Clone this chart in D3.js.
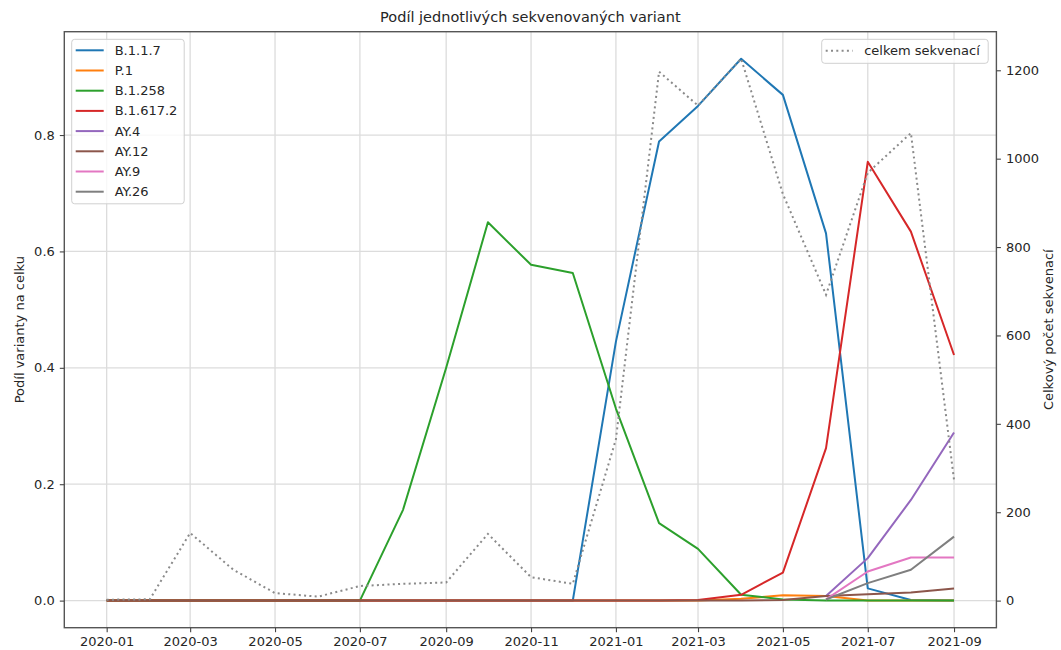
<!DOCTYPE html>
<html>
<head>
<meta charset="utf-8">
<script src="https://cdn.jsdelivr.net/npm/d3@7"></script>
<style>
  body { margin: 0; background: #fff; }
  text { font-family: "DejaVu Sans", sans-serif; fill: #262626; }
</style>
</head>
<body>
<svg id="chart" width="1061" height="650"></svg>
<script>
// monthly data, 2020-01 .. 2021-09
var months = ["2020-01","2020-02","2020-03","2020-04","2020-05","2020-06","2020-07","2020-08","2020-09","2020-10","2020-11","2020-12",
              "2021-01","2021-02","2021-03","2021-04","2021-05","2021-06","2021-07","2021-08","2021-09"];

var variantNames = ["B.1.1.7","P.1","B.1.258","B.1.617.2","AY.4","AY.12","AY.9","AY.26"];
var variantColors = ["#1f77b4","#ff7f0e","#2ca02c","#d62728","#9467bd","#8c564b","#e377c2","#7f7f7f"];

var b117   = [0,0,0,0,0,0,0,0,0,0,0,0,0.445,0.789,0.850,0.931,0.869,0.631,0.021,0.001,0];
var p1     = [0,0,0,0,0,0,0,0,0,0,0,0,0,0,0,0.003,0.009,0.008,0,0,0];
var b1258  = [0,0,0,0,0,0,0,0.156,0.40,0.650,0.577,0.563,0.33,0.133,0.089,0.010,0.002,0,0,0,0];
var b16172 = [0,0,0,0,0,0,0,0,0,0,0,0,0,0,0.001,0.010,0.048,0.262,0.754,0.634,0.422];
var ay4    = [null,null,null,null,null,null,null,null,null,null,null,null,null,null,null,null,null,0.008,0.073,0.173,0.289];
var ay12   = [0,0,0,0,0,0,0,0,0,0,0,0,0,0,0,0,0.001,0.008,0.011,0.014,0.021];
var ay9    = [null,null,null,null,null,null,null,null,null,null,null,null,null,null,null,null,null,0.002,0.050,0.074,0.074];
var ay26   = [null,null,null,null,null,null,null,null,null,null,null,null,null,null,null,null,null,0.002,0.030,0.053,0.110];

var totalSeq = [2,3,153,70,17,9,33,38,41,151,53,38,365,1197,1120,1226,920,692,968,1058,273];

var xTicks = ["2020-01","2020-03","2020-05","2020-07","2020-09","2020-11","2021-01","2021-03","2021-05","2021-07","2021-09"];
var leftTicks = [0, 0.2, 0.4, 0.6, 0.8];
var rightTicks = [0, 200, 400, 600, 800, 1000, 1200];

var series = [b117, p1, b1258, b16172, ay4, ay12, ay9, ay26];

var svg = d3.select("#chart");
var plotLeft = 64.3, plotRight = 996.4, plotTop = 31.7, plotBottom = 627.7;

var parse = d3.utcParse("%Y-%m");
var dates = months.map(parse);

// matplotlib-style 5% margins
function pad(ext){ var m = (ext[1] - ext[0]) * 0.05; return [ext[0] - m, ext[1] + m]; }

var tExt = d3.extent(dates).map(function(d){ return +d; });
var x = d3.scaleUtc().domain(pad(tExt).map(function(t){ return new Date(t); })).range([plotLeft, plotRight]);

var yMax = d3.max(series, function(s){ return d3.max(s); });
var y = d3.scaleLinear().domain(pad([0, yMax])).range([plotBottom, plotTop]);
var y2 = d3.scaleLinear().domain(pad([0, d3.max(totalSeq)])).range([plotBottom, plotTop]);

// grid
var grid = svg.append("g").attr("stroke", "#dcdcdc").attr("stroke-width", 1.3);
xTicks.forEach(function(t){
  var xx = x(parse(t));
  grid.append("line").attr("x1", xx).attr("x2", xx).attr("y1", plotTop).attr("y2", plotBottom);
});
leftTicks.forEach(function(t){
  grid.append("line").attr("x1", plotLeft).attr("x2", plotRight).attr("y1", y(t)).attr("y2", y(t));
});

// variant lines
var line = d3.line()
    .defined(function(d){ return d[1] != null; })
    .x(function(d){ return x(d[0]); })
    .y(function(d){ return y(d[1]); });

series.forEach(function(s, i){
  svg.append("path")
      .attr("d", line(s.map(function(v, j){ return [dates[j], v]; })))
      .attr("fill", "none")
      .attr("stroke", variantColors[i])
      .attr("stroke-width", 2)
      .attr("stroke-linejoin", "round");
});

// total sequenced (twin axis)
var line2 = d3.line()
    .x(function(d){ return x(d[0]); })
    .y(function(d){ return y2(d[1]); });
svg.append("path")
    .attr("d", line2(totalSeq.map(function(v, j){ return [dates[j], v]; })))
    .attr("fill", "none")
    .attr("stroke", "#8a8a8a")
    .attr("stroke-width", 2)
    .attr("stroke-dasharray", "2,3.3");

// spines
svg.append("rect").attr("x", plotLeft).attr("y", plotTop).attr("width", plotRight - plotLeft).attr("height", plotBottom - plotTop)
    .attr("fill", "none").attr("stroke", "#555").attr("stroke-width", 1.4);

// axes
var xAxis = svg.append("g").attr("transform", "translate(0," + plotBottom + ")")
    .call(d3.axisBottom(x).tickValues(xTicks.map(parse)).tickFormat(d3.utcFormat("%Y-%m")).tickSize(4.5).tickPadding(5));
var yAxis = svg.append("g").attr("transform", "translate(" + plotLeft + ",0)")
    .call(d3.axisLeft(y).tickValues(leftTicks).tickFormat(d3.format(".1f")).tickSize(4.5).tickPadding(5));
var y2Axis = svg.append("g").attr("transform", "translate(" + plotRight + ",0)")
    .call(d3.axisRight(y2).tickValues(rightTicks).tickFormat(d3.format("d")).tickSize(4.5).tickPadding(5));

[xAxis, yAxis, y2Axis].forEach(function(a){
  a.select(".domain").remove();
  a.selectAll(".tick line").attr("stroke", "#444").attr("stroke-width", 1.1);
  a.selectAll(".tick text").attr("font-size", 13).attr("font-family", "DejaVu Sans").attr("fill", "#333");
});

// title and labels
svg.append("text").attr("x", (plotLeft + plotRight) / 2).attr("y", 22).attr("text-anchor", "middle")
    .attr("font-size", 14.5).text("Podíl jednotlivých sekvenovaných variant");
svg.append("text").attr("transform", "translate(24," + (plotTop + plotBottom) / 2 + ") rotate(-90)")
    .attr("text-anchor", "middle").attr("font-size", 13).text("Podíl varianty na celku");
svg.append("text").attr("transform", "translate(1053," + (plotTop + plotBottom) / 2 + ") rotate(-90)")
    .attr("text-anchor", "middle").attr("font-size", 13).text("Celkový počet sekvenací");

// left legend
var lg = svg.append("g").attr("transform", "translate(71.7,39.3)");
lg.append("rect").attr("width", 112.5).attr("height", 164.5).attr("rx", 3)
    .attr("fill", "#fff").attr("fill-opacity", 0.8).attr("stroke", "#d0d0d0");
variantNames.forEach(function(n, i){
  var yy = 11 + i * 20.2;
  lg.append("line").attr("x1", 4).attr("x2", 32).attr("y1", yy).attr("y2", yy)
      .attr("stroke", variantColors[i]).attr("stroke-width", 2);
  lg.append("text").attr("x", 43).attr("y", yy + 4.5).attr("font-size", 13).text(n);
});

// right legend
var rg = svg.append("g").attr("transform", "translate(821.7,39.3)");
rg.append("rect").attr("width", 166.5).attr("height", 24).attr("rx", 3)
    .attr("fill", "#fff").attr("fill-opacity", 0.8).attr("stroke", "#d0d0d0");
rg.append("line").attr("x1", 4).attr("x2", 31).attr("y1", 11.5).attr("y2", 11.5)
    .attr("stroke", "#8a8a8a").attr("stroke-width", 2).attr("stroke-dasharray", "2,3.3");
rg.append("text").attr("x", 42.5).attr("y", 16).attr("font-size", 13).text("celkem sekvenací");
</script>
</body>
</html>
